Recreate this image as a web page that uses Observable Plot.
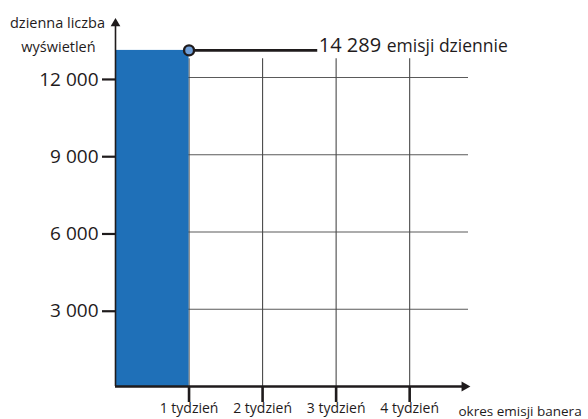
<!DOCTYPE html>
<html>
<head>
<meta charset="utf-8">
<script src="https://cdn.jsdelivr.net/npm/d3@7"></script>
<script src="https://cdn.jsdelivr.net/npm/@observablehq/plot@0.6"></script>
<style>
  html, body { margin: 0; padding: 0; background: #fff; }
  svg { display: block; }
</style>
</head>
<body>
<div id="chart"></div>
<script>
// ---- data ----
const weeks = [1, 2, 3, 4];
const weekLabels = ["1 tydzień", "2 tydzień", "3 tydzień", "4 tydzień"];
const yTicks = [3000, 6000, 9000, 12000];
const yTickLabels = ["3 000", "6 000", "9 000", "12 000"];
const barWeeks = [{start: 0, end: 1, value: 13050}];   // bar as drawn in the picture
const dailyEmissions = 14289;                           // annotated value
const annotationText = "emisji dziennie";
const xAxisTitle = "okres emisji banera";
const yAxisTitle = ["dzienna liczba", "wyświetleń"];

// ---- layout constants ----
const xMax = 4.8;
const yMax = 14289;
const gridTop = 12730;
const labelX = 2.75;
const ink = "#1f1b1c";
const barValue = barWeeks[0].value;

const plot = Plot.plot({
  width: 588,
  height: 419,
  marginLeft: 115,
  marginRight: 120,
  marginTop: 18,
  marginBottom: 33,
  style: {fontFamily: "'Open Sans', sans-serif", color: ink, background: "#fff", overflow: "visible"},
  x: {domain: [0, xMax], axis: null},
  y: {domain: [0, yMax], axis: null},
  marks: [
    // horizontal grid
    Plot.ruleY(yTicks, {x1: 0, x2: xMax, stroke: "#5a5a5a", strokeWidth: 1.1}),
    // vertical grid
    Plot.ruleX(weeks, {y1: 0, y2: gridTop, stroke: "#4a4a4a", strokeWidth: 1.1}),
    // bar
    Plot.rectY(barWeeks, {x1: "start", x2: "end", y: "value", fill: "#1f70b8"}),
    // y axis line + arrow
    Plot.ruleX([0], {y1: 0, y2: yMax - 250, stroke: ink, strokeWidth: 1.6}),
    Plot.dot([[0, yMax]], {x: d => d[0], y: d => d[1], symbol: "triangle", r: 3.6, fill: ink, dy: 5}),
    // x axis line + arrow
    Plot.ruleY([0], {x1: 0, x2: xMax - 0.08, stroke: ink, strokeWidth: 2.6}),
    Plot.dot([[xMax, 0]], {x: d => d[0], y: d => d[1], symbol: "triangle", rotate: 90, r: 3.8, fill: ink, dx: -4}),
    // axes
    Plot.axisY({ticks: yTicks, tickSize: 13, tickPadding: 4, tickFormat: d => yTickLabels[yTicks.indexOf(d)],
      fontSize: 19, strokeWidth: 2.2, stroke: ink, fill: ink, label: null, dy: 2}),
    Plot.axisX({ticks: weeks, tickSize: 16, tickPadding: 1, tickFormat: d => weekLabels[weeks.indexOf(d)],
      fontSize: 14, strokeWidth: 2.6, stroke: ink, fill: ink, label: null}),
    // x axis title
    Plot.text([xAxisTitle], {x: xMax, y: 0, text: d => d, textAnchor: "start", dx: -10, dy: 25, fontSize: 13.5, fill: ink}),
    // y axis title
    Plot.text([yAxisTitle[0]], {x: 0, y: yMax, text: d => d, textAnchor: "middle", dx: -58, dy: 4.5, fontSize: 14.5, fill: ink}),
    Plot.text([yAxisTitle[1]], {x: 0, y: yMax, text: d => d, textAnchor: "middle", dx: -57, dy: 28.5, fontSize: 14.5, fill: ink}),
    // annotation line, marker and text
    Plot.ruleY([barValue], {x1: 1, x2: labelX, stroke: ink, strokeWidth: 2.8}),
    Plot.dot([[1, barValue]], {x: d => d[0], y: d => d[1], r: 5, fill: "#6f9fd9", stroke: ink, strokeWidth: 2.4}),
    Plot.text([dailyEmissions], {x: labelX, y: barValue, text: d => d3.format(",")(d).replace(",", " "),
      textAnchor: "start", dx: 1, dy: -5, fontSize: 20, fill: ink}),
    Plot.text([annotationText], {x: labelX, y: barValue, text: d => d, textAnchor: "start", dx: 69, dy: -4, fontSize: 17.5, fill: ink})
  ]
});
document.getElementById("chart").appendChild(plot);
</script>
</body>
</html>
